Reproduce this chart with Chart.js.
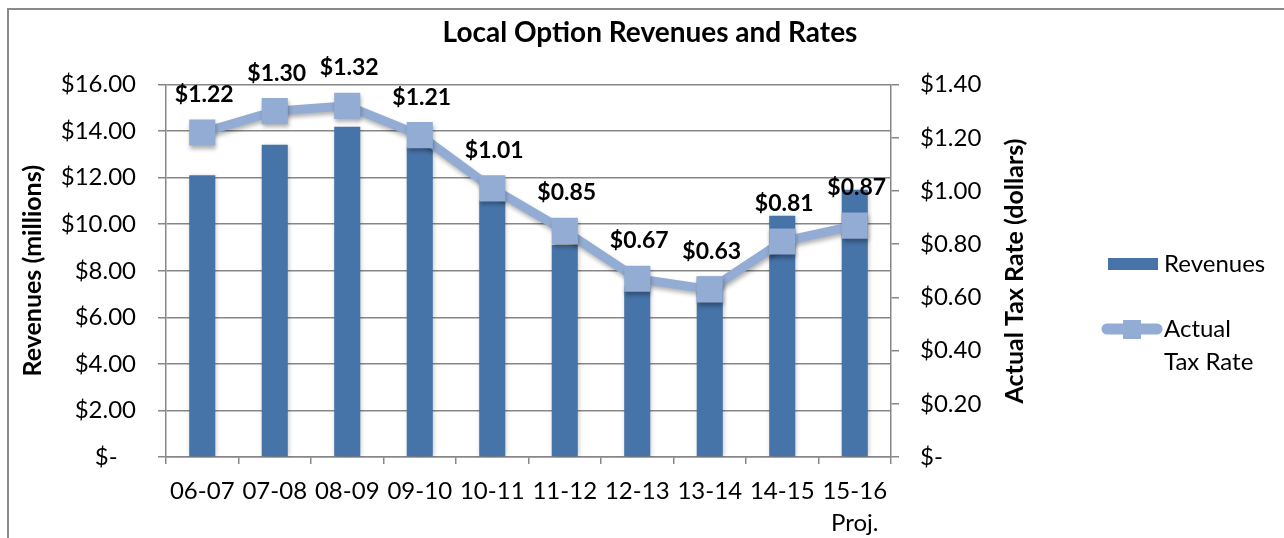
<!DOCTYPE html>
<html>
<head>
<meta charset="utf-8">
<title>Local Option Revenues and Rates</title>
<script src="https://cdn.jsdelivr.net/npm/chart.js@4.4.1/dist/chart.umd.min.js"></script>
<style>
  html, body { margin: 0; padding: 0; background: #fff; }
  #frame {
    position: absolute; left: 7px; top: 8px; width: 1300px; height: 600px;
    border-left: 2px solid #8a8a8a; border-top: 2px solid #8a8a8a;
  }
  #chart { position: absolute; left: 0; top: 0; }
</style>
</head>
<body>
<div id="frame"></div>
<canvas id="chart" width="1284" height="538"></canvas>
<script>
// data
const categories = ['06-07', '07-08', '08-09', '09-10', '10-11', '11-12', '12-13', '13-14', '14-15', ['15-16', 'Proj.']]
const revenues = [12.1, 13.42, 14.19, 13.33, 11.05, 9.12, 7.3, 7.74, 10.37, 11.48]
const taxRates = [1.22, 1.30, 1.32, 1.21, 1.01, 0.85, 0.67, 0.63, 0.81, 0.87]

const barColor = '#4673a8'
const lineColor = '#93acd4'
const gridColor = '#878787'
const FONT = 'Lato, "Open Sans", sans-serif'

function money(v) {
  return v === 0 ? '$-' : '$' + v.toFixed(2)
}

// soft shadow like the office chart
const shadowPlugin = {
  id: 'shadows',
  beforeDatasetDraw(chart, args) {
    const ctx = chart.ctx
    ctx.save()
    if (args.meta.type === 'bar') {
      ctx.shadowColor = 'rgba(0,0,0,0.25)'
      ctx.shadowBlur = 5
      ctx.shadowOffsetX = 1
      ctx.shadowOffsetY = 1
    } else {
      ctx.shadowColor = 'rgba(0,0,0,0.3)'
      ctx.shadowBlur = 4
      ctx.shadowOffsetX = 1
      ctx.shadowOffsetY = 3
    }
  },
  afterDatasetDraw(chart) {
    chart.ctx.restore()
  },
}

// rate labels above the markers, right axis title, legend
const extrasPlugin = {
  id: 'extras',
  afterDatasetsDraw(chart) {
    const ctx = chart.ctx
    const meta = chart.getDatasetMeta(0)
    ctx.save()
    ctx.fillStyle = '#000'
    ctx.font = 'bold 23px ' + FONT
    ctx.textAlign = 'center'
    ctx.textBaseline = 'middle'
    meta.data.forEach((pt, i) => {
      ctx.fillText(money(taxRates[i]), pt.x + 2, pt.y - 38)
    })

    // right axis title, reads bottom to top
    ctx.save()
    ctx.font = 'bold 25px ' + FONT
    ctx.translate(1015, 271)
    ctx.rotate(-Math.PI / 2)
    ctx.fillText('Actual Tax Rate (dollars)', 0, 0)
    ctx.restore()

    // legend
    ctx.font = '24px ' + FONT
    ctx.textAlign = 'left'
    ctx.fillStyle = barColor
    ctx.fillRect(1108, 258, 50, 12)
    ctx.fillStyle = '#000'
    ctx.fillText('Revenues', 1164, 264)

    ctx.strokeStyle = lineColor
    ctx.lineWidth = 11
    ctx.lineCap = 'round'
    ctx.beginPath()
    ctx.moveTo(1107, 329)
    ctx.lineTo(1157, 329)
    ctx.stroke()
    ctx.fillStyle = lineColor
    ctx.fillRect(1123, 320, 18, 19)
    ctx.fillStyle = '#000'
    ctx.fillText('Actual', 1164, 329)
    ctx.fillText('Tax Rate', 1164, 362)
    ctx.restore()
  },
}

const ctx = document.getElementById('chart').getContext('2d')
Chart.defaults.font.family = FONT
Chart.defaults.color = '#000'

new Chart(ctx, {
  data: {
    labels: categories,
    datasets: [
      {
        type: 'line',
        label: 'Actual Tax Rate',
        data: taxRates,
        yAxisID: 'y1',
        borderColor: lineColor,
        backgroundColor: lineColor,
        borderWidth: 9,
        pointStyle: 'rect',
        pointRadius: 18.5,
        pointBorderWidth: 0,
        pointBackgroundColor: lineColor,
        tension: 0,
        order: 0,
      },
      {
        type: 'bar',
        label: 'Revenues',
        data: revenues,
        yAxisID: 'y',
        backgroundColor: barColor,
        borderWidth: 0,
        barPercentage: 0.36,
        categoryPercentage: 1,
        order: 1,
      },
    ],
  },
  options: {
    responsive: false,
    animation: false,
    layout: { padding: { left: 16, right: 0, top: 0, bottom: 0 } },
    plugins: {
      legend: { display: false },
      tooltip: { enabled: false },
      title: {
        display: true,
        text: 'Local Option Revenues and Rates',
        color: '#000',
        font: { size: 28, weight: 'bold', lineHeight: 1.2 },
        padding: { top: 16, bottom: 35 },
      },
    },
    scales: {
      x: {
        offset: true,
        grid: {
          offset: true,
          drawOnChartArea: false,
          drawTicks: true,
          tickLength: 7,
          color: gridColor,
          lineWidth: 1.5,
        },
        border: { display: true, color: gridColor, width: 1.5 },
        ticks: {
          font: { size: 24, lineHeight: 1.3 },
          padding: 12,
          maxRotation: 0,
          autoSkip: false,
        },
        afterFit: (scale) => { scale.height = 81 },
      },
      y: {
        position: 'left',
        min: 0,
        max: 16,
        ticks: {
          stepSize: 2,
          font: { size: 24 },
          padding: 22,
          callback: (v) => (v === 0 ? '$-   ' : money(v)),
        },
        grid: {
          color: gridColor,
          lineWidth: 1.5,
          drawTicks: true,
          tickLength: 8,
        },
        border: { display: true, color: gridColor, width: 1.5 },
        title: {
          display: true,
          text: 'Revenues (millions)',
          font: { size: 25, weight: 'bold', lineHeight: 1.2 },
          padding: { top: 2, bottom: 0 },
        },
        afterFit: (scale) => { scale.width = 150 },
      },
      y1: {
        position: 'right',
        min: 0,
        max: 1.4,
        ticks: {
          stepSize: 0.2,
          font: { size: 24 },
          padding: 21,
          callback: (v) => money(Math.round(v * 100) / 100),
        },
        grid: {
          drawOnChartArea: false,
          drawTicks: true,
          tickLength: 8,
          color: gridColor,
          lineWidth: 1.5,
        },
        border: { display: true, color: gridColor, width: 1.5 },
        afterFit: (scale) => { scale.width = 393 },
      },
    },
  },
  plugins: [shadowPlugin, extrasPlugin],
})
</script>
</body>
</html>
